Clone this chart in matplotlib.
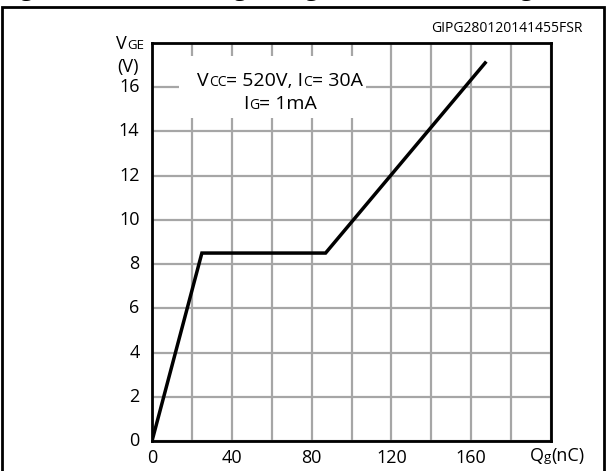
import matplotlib.pyplot as plt
from matplotlib.patches import Rectangle
from matplotlib.offsetbox import TextArea, HPacker, AnnotationBbox

# --- curve corners (Qg in nC, VGE in V)
qg_nc = [0, 25, 87, 167]
vge_v = [0, 8.5, 8.5, 17.1]

x_ticks = [0, 40, 80, 120, 160]
x_tick_labels = ['0', '40', '80', '120', '160']
y_ticks = [0, 2, 4, 6, 8, 10, 12, 14, 16]
y_tick_labels = ['0', '2', '4', '6', '8', '10', '12', '14', '16']

FONT = 'Open Sans'
W, H = 606, 471

plt.rcParams['font.family'] = FONT

fig = plt.figure(figsize=(W / 100, H / 100), dpi=100)
ax = fig.add_axes([152 / W, 30 / H, 399 / W, 398 / H])


def mixed(parts, x, y, ha=0.5):
    # text made of big and small pieces sharing one baseline, x/y in pixels from top-left
    kids = [TextArea(t, textprops=dict(fontsize=s, family=FONT, color='black')) for t, s in parts]
    box = HPacker(children=kids, align='baseline', pad=0, sep=0)
    ab = AnnotationBbox(box, (x, H - y), xycoords='figure pixels',
                        box_alignment=(ha, 0.5), frameon=False, pad=0)
    fig.add_artist(ab)


# outer frame, open at the bottom like the cropped datasheet page
fig.add_artist(Rectangle((2 / W, -0.1), 602 / W, (H - 7) / H + 0.1,
                         transform=fig.transFigure, fill=False, lw=2, ec='black'))
# title mostly cut off by the crop, only descenders show
fig.text(0.0, (H + 5) / H, 'Figure 14. Gate charge vs. gate-emitter voltage',
         fontsize=17, fontweight='bold', ha='left', va='baseline')

ax.plot(qg_nc, vge_v, color='black', lw=2.5, solid_joinstyle='miter', zorder=3)

ax.set_xlim(0, 200)
ax.set_ylim(0, 18)
ax.set_xticks(range(0, 201, 20))
ax.set_yticks(range(0, 19, 2))
ax.set_axisbelow(True)
ax.grid(True, color='#a6a6a6', lw=1.6)
ax.tick_params(length=0, labelbottom=False, labelleft=False)
for sp in ax.spines.values():
    sp.set_linewidth(2)

# white patch behind the test-condition text
ax.add_patch(Rectangle((13.5, 14.6), 94, 2.8, fc='white', ec='none', zorder=1))

for v, lab in zip(y_ticks, y_tick_labels):
    ax.annotate(lab, (0, v), xytext=(-9, 0), textcoords='offset points',
                ha='right', va='center', fontsize=13)
for v, lab in zip(x_ticks, x_tick_labels):
    ax.annotate(lab, (v, 0), xytext=(0, -12), textcoords='offset points',
                ha='center', va='center', fontsize=13)

mixed([('V', 13), ('GE', 9.5)], 130, 44)
fig.text(128 / W, 1 - 67 / H, '(V)', fontsize=13, ha='center', va='center')
mixed([('Q', 13), ('g', 9.5), ('(nC)', 13)], 530, 456, ha=0)
mixed([('V', 14), ('CC', 10), ('= 520V, I', 14), ('C', 10), ('= 30A', 14)], 280, 81)
mixed([('I', 14), ('G', 10), ('= 1mA', 14)], 280, 104)
fig.text(582 / W, 1 - 28 / H, 'GIPG280120141455FSR', fontsize=10, ha='right', va='center')

plt.savefig('out.png', dpi=100)
